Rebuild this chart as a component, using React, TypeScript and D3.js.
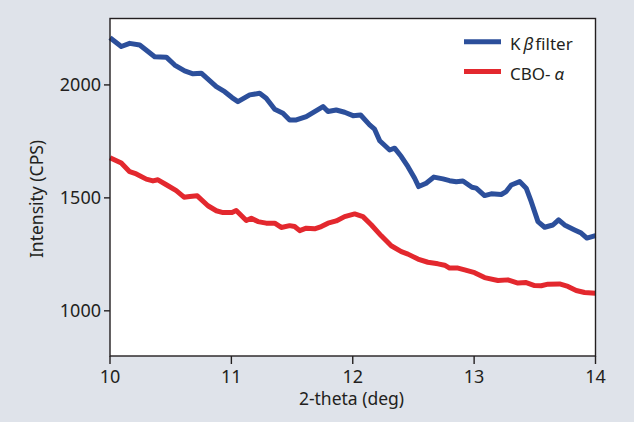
import React from "react";
import * as d3 from "d3";

const xTicks = [10, 11, 12, 13, 14];
const yTicks = [1000, 1500, 2000];
const seriesNames = ["Kβ filter", "CBO-α"];
const seriesColors = ["#2c4f9b", "#e3282e"];

const kbX = [10.0, 10.093, 10.162, 10.245, 10.368, 10.464, 10.533, 10.615, 10.684, 10.752, 10.876, 10.945, 11.005, 11.054, 11.151, 11.233, 11.287, 11.357, 11.425, 11.48, 11.535, 11.617, 11.686, 11.755, 11.796, 11.864, 11.933, 12.002, 12.065, 12.139, 12.18, 12.222, 12.304, 12.345, 12.4, 12.455, 12.51, 12.543, 12.605, 12.669, 12.743, 12.798, 12.853, 12.908, 12.982, 13.017, 13.086, 13.141, 13.223, 13.264, 13.306, 13.375, 13.429, 13.47, 13.526, 13.581, 13.649, 13.696, 13.745, 13.828, 13.882, 13.929, 14.0];
const kbY = [2209, 2170, 2184, 2177, 2125, 2123, 2088, 2062, 2049, 2052, 1992, 1970, 1944, 1926, 1956, 1963, 1941, 1892, 1875, 1845, 1845, 1860, 1882, 1904, 1882, 1889, 1879, 1864, 1867, 1823, 1804, 1753, 1712, 1720, 1683, 1638, 1587, 1550, 1565, 1592, 1584, 1576, 1571, 1575, 1547, 1543, 1510, 1518, 1515, 1528, 1557, 1572, 1543, 1484, 1395, 1370, 1380, 1403, 1380, 1358, 1344, 1322, 1333];

const cboX = [10.0, 10.093, 10.162, 10.217, 10.299, 10.354, 10.395, 10.464, 10.546, 10.61, 10.657, 10.719, 10.807, 10.876, 10.931, 11.005, 11.04, 11.123, 11.164, 11.219, 11.287, 11.357, 11.411, 11.48, 11.521, 11.563, 11.617, 11.686, 11.741, 11.796, 11.864, 11.933, 12.016, 12.084, 12.152, 12.235, 12.317, 12.4, 12.455, 12.537, 12.619, 12.702, 12.757, 12.798, 12.867, 12.922, 13.004, 13.086, 13.196, 13.278, 13.361, 13.429, 13.498, 13.553, 13.608, 13.704, 13.773, 13.841, 13.91, 14.0];
const cboY = [1678, 1654, 1616, 1606, 1583, 1575, 1580, 1558, 1532, 1503, 1506, 1509, 1465, 1443, 1435, 1435, 1444, 1400, 1410, 1395, 1388, 1388, 1369, 1377, 1373, 1355, 1366, 1363, 1373, 1388, 1398, 1417, 1429, 1417, 1381, 1332, 1288, 1262, 1251, 1229, 1215, 1208, 1202, 1189, 1189, 1181, 1169, 1147, 1134, 1137, 1123, 1125, 1112, 1111, 1118, 1119, 1108, 1090, 1081, 1078];

const W = 634;
const H = 422;
const left = 110;
const right = 595.5;
const top = 18.5;
const bottom = 356;
const FONT = "'Noto Sans', 'Open Sans', sans-serif";
const TEXT = "#231f20";

export default function App() {
  const x = d3.scaleLinear().domain([10, 14]).range([left, right]);
  const y = d3.scaleLinear().domain([800, 2294]).range([bottom, top]);
  const line = d3
    .line<[number, number]>()
    .x((d) => x(d[0]))
    .y((d) => y(d[1]))
    .curve(d3.curveLinear);
  const kb = kbX.map((v, i) => [v, kbY[i]] as [number, number]);
  const cbo = cboX.map((v, i) => [v, cboY[i]] as [number, number]);

  return (
    <svg
      width={W}
      height={H}
      style={{ position: "absolute", left: 0, top: 0, display: "block" }}
      fontFamily={FONT}
    >
      <rect x={0} y={0} width={W} height={H} fill="#dfe3ea" />
      <rect x={left} y={top} width={right - left} height={bottom - top} fill="#ffffff" />
      <path d={line(kb) || ""} fill="none" stroke={seriesColors[0]} strokeWidth={5} strokeLinejoin="round" strokeLinecap="butt" />
      <path d={line(cbo) || ""} fill="none" stroke={seriesColors[1]} strokeWidth={5} strokeLinejoin="round" strokeLinecap="butt" />
      <rect x={left} y={top} width={right - left} height={bottom - top} fill="none" stroke="#231f20" strokeWidth={1.4} />
      {xTicks.map((t) => (
        <g key={"x" + t}>
          <line x1={x(t)} x2={x(t)} y1={bottom} y2={bottom + 8} stroke="#231f20" strokeWidth={1.4} />
          <text x={x(t)} y={382.5} textAnchor="middle" fontSize={18} fill={TEXT}>
            {t}
          </text>
        </g>
      ))}
      {yTicks.map((t) => (
        <g key={"y" + t}>
          <line x1={left - 6} x2={left} y1={y(t)} y2={y(t)} stroke="#231f20" strokeWidth={1.4} />
          <text x={left - 9} y={y(t) + 6.5} textAnchor="end" fontSize={18} fill={TEXT}>
            {t}
          </text>
        </g>
      ))}
      <text x={351.5} y={405} textAnchor="middle" fontSize={17.5} fill={TEXT}>
        2-theta (deg)
      </text>
      <text transform="translate(43,199) rotate(-90)" textAnchor="middle" fontSize={17.5} fill={TEXT}>
        Intensity (CPS)
      </text>
      <line x1={464} x2={501} y1={41.7} y2={41.7} stroke={seriesColors[0]} strokeWidth={5} />
      <line x1={464} x2={501} y1={71.5} y2={71.5} stroke={seriesColors[1]} strokeWidth={5} />
      <text x={510} y={50} fontSize={17} fill={TEXT}>
        <tspan>K</tspan>
        <tspan dx={3} fontStyle="italic">β</tspan>
        <tspan dx={2}>filter</tspan>
      </text>
      <text x={510} y={79.5} fontSize={17} fill={TEXT}>
        <tspan>CBO-</tspan>
        <tspan dx={4} fontStyle="italic">α</tspan>
      </text>
      <title>{seriesNames.join(", ")}</title>
    </svg>
  );
}
